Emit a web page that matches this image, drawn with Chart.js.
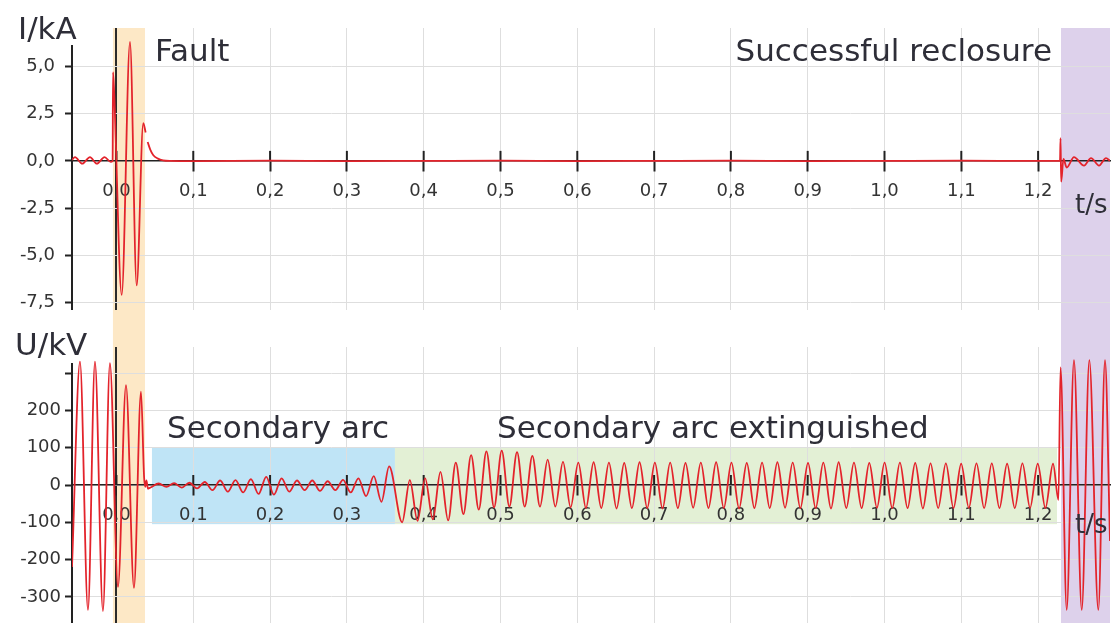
<!DOCTYPE html>
<html>
<head>
<meta charset="utf-8">
<script src="https://cdn.jsdelivr.net/npm/chart.js@4.4.1/dist/chart.umd.min.js"></script>
<style>
  html, body { margin: 0; padding: 0; background: #fff; }
  #wrap { position: relative; width: 1115px; height: 623px; overflow: hidden; }
  #currentChart { position: absolute; left: 0; top: 0; }
  #voltageChart { position: absolute; left: 0; top: 320px; }
</style>
</head>
<body>
<div id="wrap">
  <canvas id="currentChart" width="1115" height="320"></canvas>
  <canvas id="voltageChart" width="1115" height="303"></canvas>
</div>
<script>
// tick labels
const timeTicks = [0, 0.1, 0.2, 0.3, 0.4, 0.5, 0.6, 0.7, 0.8, 0.9, 1.0, 1.1, 1.2];
const currentTicks = [-7.5, -5, -2.5, 0, 2.5, 5];
const voltageTicks = [-300, -200, -100, 0, 100, 200, 300];

// I/kA (t in s)
const currentTime = [-0.0579, -0.054, -0.0445, -0.0345, -0.0255, -0.0155, -0.0075, -0.005,
  -0.0045, -0.003, 0.0068, 0.0176, 0.0263, 0.0349, 0.038, 0.0393,
  0.0406, 0.044, 0.048, 0.054, 0.0606, 0.07, 0.1, 0.2, 0.3, 0.4, 0.5, 0.6, 0.7, 0.8, 0.9, 1.0, 1.1, 1.2,
  1.2285, 1.2292, 1.23, 1.233, 1.2372, 1.2467, 1.2598, 1.2689, 1.2793, 1.2884, 1.2936];
const currentKA = [0.05, 0.2, -0.15, 0.2, -0.15, 0.2, -0.05, 0.0,
  4.7, 3.6, -7.1, 6.3, -6.6, 2.0, 1.5, null,
  1.0, 0.6, 0.3, 0.12, 0.03, 0.0, -0.01, 0.01, -0.01, 0.0, 0.01, -0.01, 0.0, 0.01, -0.01, 0.0, 0.01, 0.0,
  0.0, 1.2, -1.1, 0.1, -0.35, 0.2, -0.25, 0.15, -0.25, 0.15, 0.0];

// U/kV before and during the fault
const faultTime = [-0.0579, -0.0475, -0.0371, -0.028, -0.0176, -0.0085, 0.002, 0.0124, 0.0228, 0.0319, 0.036, 0.0375, 0.039, 0.041];
const faultKV = [-220, 331, -335, 331, -338, 327, -273, 268, -276, 250, 20, -5, 12, -10];

// secondary arc, one value per half cycle
const arcStart = 0.045, arcStep = 0.01;
const arcKV = [-6, 4, -5, 5, -7, 6, -9, 8, -14, 12, -18, 13, -20, 16, -24, 22,
  -26, 18, -18, 12, -14, 12, -16, 10, -14, 14, -20, 18, -30, 24, -45, 50];

// after the arc is extinguished, one value per half cycle
const ringStart = 0.372, ringStep = 0.00997;
const ringKV = [-100, 13, -96, 18, -92, 35, -95, 60, -78, 80, -66, 90, -60, 92, -58, 88,
  -58, 78, -58, 68, -58, 62,
  -60, 60, -62, 61, -62, 60, -63, 59, -62, 61, -62, 60, -63, 60, -62, 59, -61, 60,
  -62, 61, -62, 60, -63, 59, -62, 60, -62, 61, -61, 60, -62, 59, -62, 60, -63, 61,
  -62, 60, -62, 59, -61, 60, -62, 60, -62, 59, -63, 58, -62, 58, -62, 57, -61, 58,
  -62, 58, -62, 57, -62, 58, -61, 57, -62, 57];

// reclosure
const recloseTime = [1.2265, 1.2292, 1.2372, 1.2467, 1.2568, 1.2667, 1.2784, 1.2871, 1.2936];
const recloseKV = [-40, 315, -335, 335, -335, 335, -335, 335, -150];

const toPoints = (ts, vs) => ts.map((t, i) => ({ x: t, y: vs[i] }));
const stepPoints = (t0, dt, vs) => vs.map((v, i) => ({ x: t0 + i * dt, y: v }));

const currentPoints = toPoints(currentTime, currentKA);
const voltagePoints = [
  ...toPoints(faultTime, faultKV),
  ...stepPoints(arcStart, arcStep, arcKV),
  ...stepPoints(ringStart, ringStep, ringKV),
  ...toPoints(recloseTime, recloseKV),
];

Chart.defaults.font.family = '"DejaVu Sans", sans-serif';
Chart.defaults.color = '#333';

const comma = (v, d) => v.toFixed(d).replace('.', ',');

const decor = {
  id: 'decor',
  beforeDraw(chart, args, opts) {
    const { ctx, chartArea, scales } = chart;
    const x = scales.x, y = scales.y;
    ctx.save();
    (opts.bands || []).forEach(b => {
      const x0 = x.getPixelForValue(b.from);
      const x1 = Math.min(x.getPixelForValue(b.to), chartArea.right);
      let y0, y1;
      if (b.low !== undefined) {
        y0 = y.getPixelForValue(b.high);
        y1 = y.getPixelForValue(b.low);
      } else {
        y0 = opts.fullTop === 'canvas' ? 0 : chartArea.top;
        y1 = opts.fullBottom === 'canvas' ? chart.height : chartArea.bottom;
      }
      ctx.fillStyle = b.color;
      ctx.fillRect(x0, y0, x1 - x0, y1 - y0);
    });
    ctx.restore();
  },
  beforeDatasetsDraw(chart, args, opts) {
    const { ctx, chartArea, scales } = chart;
    const x = scales.x, y = scales.y;
    ctx.save();
    ctx.strokeStyle = '#222';
    ctx.lineWidth = 2;
    // y axis line
    ctx.beginPath();
    ctx.moveTo(chartArea.left, y.getPixelForValue(opts.axisTop));
    ctx.lineTo(chartArea.left, chartArea.bottom);
    ctx.stroke();
    // upper half of the time ticks
    const y0 = y.getPixelForValue(0);
    x.ticks.forEach(t => {
      const px = x.getPixelForValue(t.value);
      ctx.beginPath();
      ctx.moveTo(px, y0 - 10);
      ctx.lineTo(px, y0);
      ctx.stroke();
    });
    ctx.restore();
  },
  afterDraw(chart, args, opts) {
    const { ctx } = chart;
    ctx.save();
    ctx.fillStyle = '#2e2e38';
    ctx.textBaseline = 'alphabetic';
    (opts.texts || []).forEach(t => {
      ctx.font = (t.size || 31) + 'px "DejaVu Sans"';
      ctx.textAlign = t.align || 'left';
      ctx.fillText(t.text, t.x, t.y);
    });
    ctx.restore();
  }
};

function timeScale() {
  return {
    type: 'linear',
    min: -0.0579,
    max: 1.2936,
    position: { y: 0 },
    afterBuildTicks: s => { s.ticks = timeTicks.map(v => ({ value: v })); },
    afterFit: s => { s.height = 0; s.paddingLeft = 0; s.paddingRight = 0; },
    ticks: { callback: v => comma(v, 1), font: { size: 18 }, padding: 10, maxRotation: 0, autoSkip: false, color: '#333' },
    grid: {
      color: c => (c.tick && c.tick.value === 0 ? '#2b2b2b' : '#dedede'),
      lineWidth: c => (c.tick && c.tick.value === 0 ? 2 : 1),
      tickLength: 10,
      tickColor: '#222',
      tickWidth: 2,
    },
    border: { color: '#222', width: 1.5 },
  };
}

function valueScale(min, max, list, fmt, pad) {
  return {
    type: 'linear',
    position: 'left',
    min: min,
    max: max,
    afterBuildTicks: s => { s.ticks = list.map(v => ({ value: v })); },
    afterFit: s => { s.width = 72; s.paddingTop = 0; s.paddingBottom = 0; },
    ticks: { callback: fmt, font: { size: 18 }, padding: pad, color: '#333' },
    grid: { color: '#dedede', tickLength: 7, tickColor: '#222', tickWidth: 2 },
    border: { display: false },
  };
}

const lineStyle = {
  borderColor: '#e3232b',
  borderWidth: 1.8,
  pointRadius: 0,
  cubicInterpolationMode: 'monotone',
  spanGaps: false,
};

new Chart(document.getElementById('currentChart'), {
  type: 'line',
  data: { datasets: [{ data: currentPoints, ...lineStyle }] },
  options: {
    responsive: false,
    animation: false,
    devicePixelRatio: 1,
    layout: { padding: { left: 0, right: 5, top: 28, bottom: 10 } },
    scales: {
      x: timeScale(),
      y: valueScale(-7.9, 7.04, currentTicks, v => comma(v, 1), 10),
    },
    plugins: {
      legend: { display: false },
      tooltip: { enabled: false },
      decor: {
        axisTop: 6.14,
        fullTop: 'area',
        fullBottom: 'canvas',
        bands: [
          { from: -0.0046, to: 0.0371, color: '#fde8c6' },
          { from: 1.2298, to: 1.3, color: '#ddd1eb' },
        ],
        texts: [
          { text: 'I/kA', x: 18, y: 39 },
          { text: 'Fault', x: 155, y: 61 },
          { text: 'Successful reclosure', x: 1052, y: 61, align: 'right' },
          { text: 't/s', x: 1075, y: 213, size: 26 },
        ],
      },
    },
  },
  plugins: [decor],
});

new Chart(document.getElementById('voltageChart'), {
  type: 'line',
  data: { datasets: [{ data: voltagePoints, ...lineStyle }] },
  options: {
    responsive: false,
    animation: false,
    devicePixelRatio: 1,
    layout: { padding: { left: 0, right: 5, top: 27, bottom: 0 } },
    scales: {
      x: timeScale(),
      y: valueScale(-370, 370, voltageTicks, v => (v === 300 ? '' : String(v)), 4),
    },
    plugins: {
      legend: { display: false },
      tooltip: { enabled: false },
      decor: {
        axisTop: 327,
        fullTop: 'canvas',
        fullBottom: 'area',
        bands: [
          { from: -0.0046, to: 0.0371, color: '#fde8c6' },
          { from: 1.2298, to: 1.3, color: '#ddd1eb' },
          { from: 0.0462, to: 0.3626, low: -105, high: 100, color: '#bfe4f6' },
          { from: 0.3626, to: 1.2246, low: -105, high: 100, color: '#e3f0d5' },
        ],
        texts: [
          { text: 'U/kV', x: 15, y: 35 },
          { text: 'Secondary arc', x: 167, y: 118 },
          { text: 'Secondary arc extinguished', x: 497, y: 118 },
          { text: 't/s', x: 1075, y: 213, size: 26 },
        ],
      },
    },
  },
  plugins: [decor],
});
</script>
</body>
</html>
